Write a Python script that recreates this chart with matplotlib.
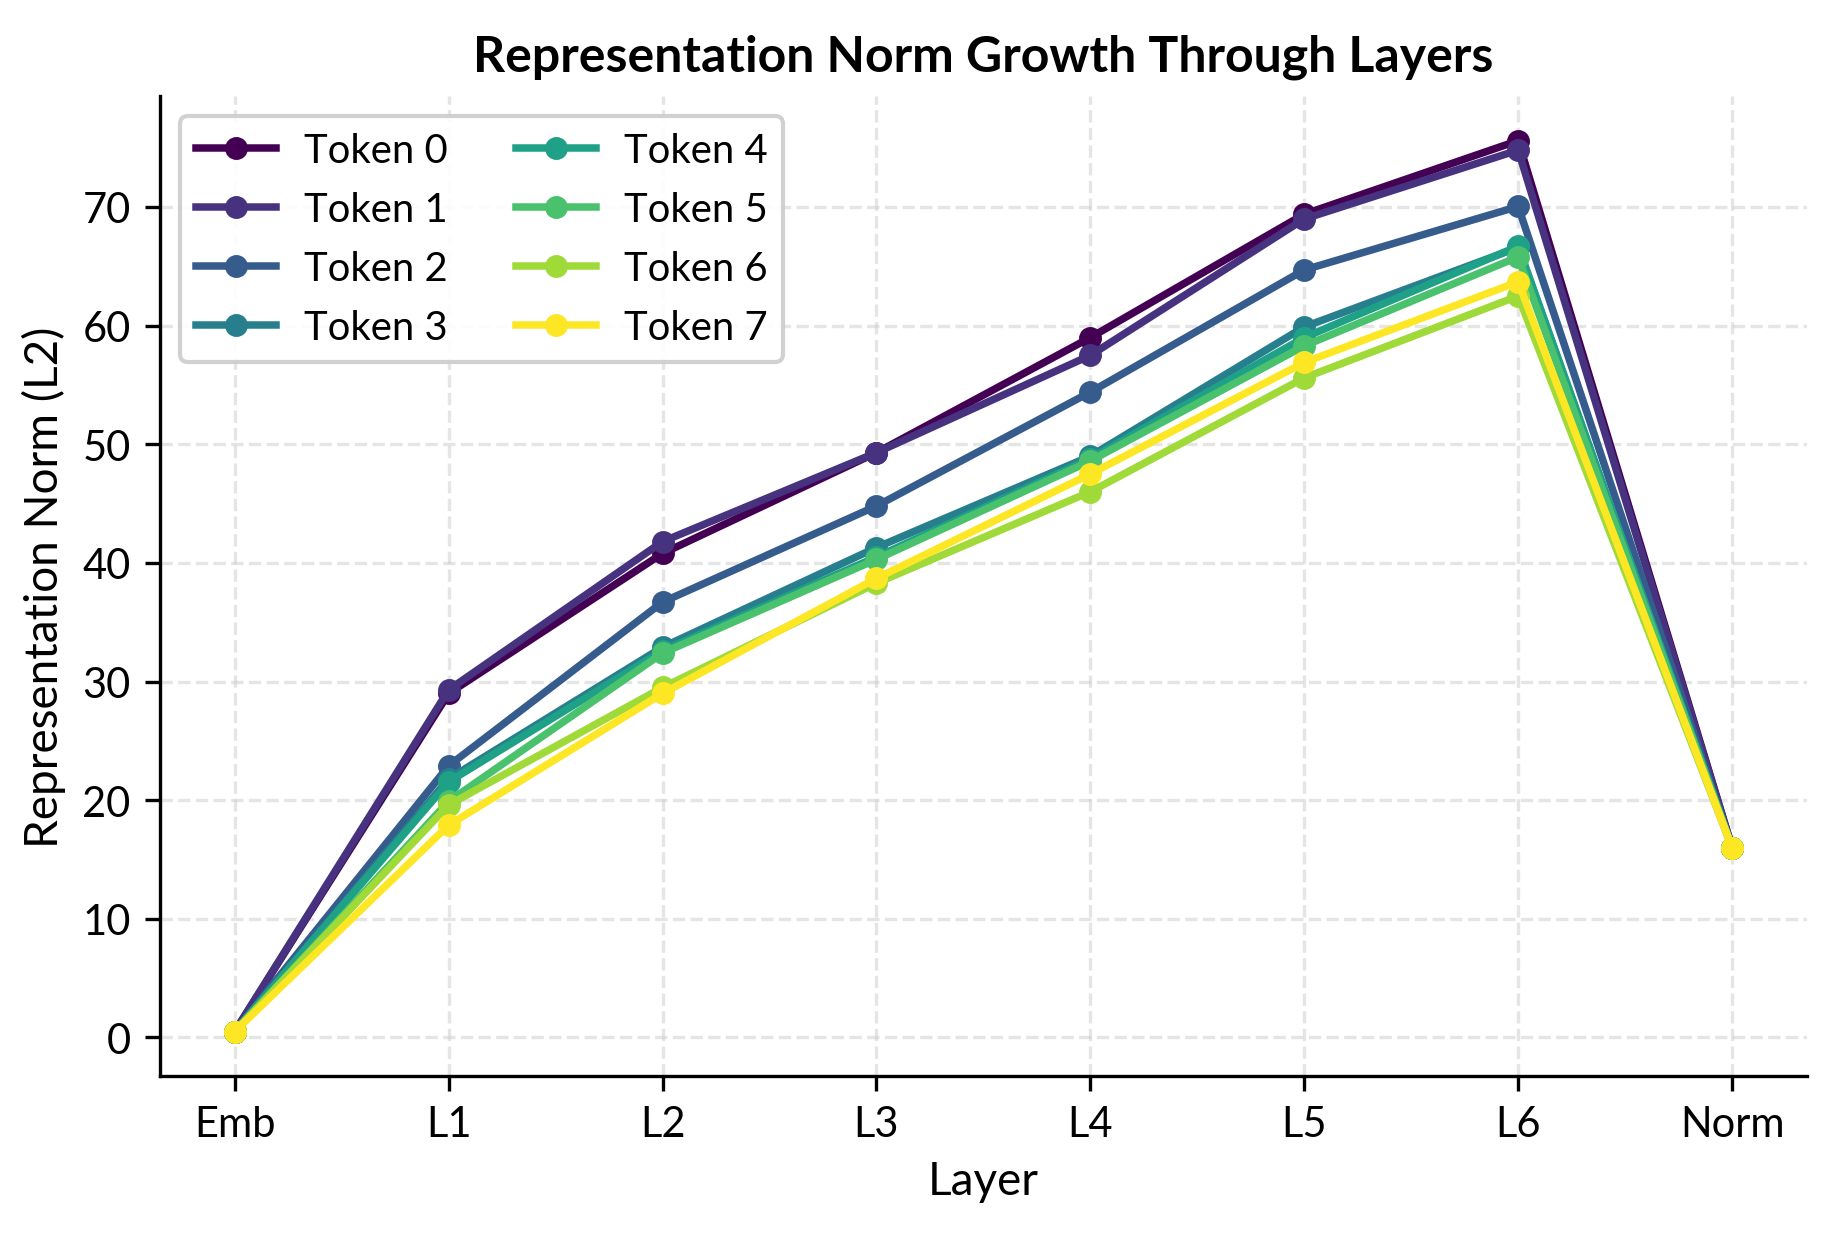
import matplotlib
matplotlib.use("Agg")
import matplotlib.pyplot as plt
import numpy as np

layers = ["Emb", "L1", "L2", "L3", "L4", "L5", "L6", "Norm"]
token_labels = ["Token 0", "Token 1", "Token 2", "Token 3", "Token 4", "Token 5", "Token 6", "Token 7"]

token0 = [0.5, 29.0, 40.8, 49.3, 59.0, 69.4, 75.6, 16.0]
token1 = [0.5, 29.3, 41.8, 49.3, 57.5, 69.0, 74.8, 16.0]
token2 = [0.5, 22.9, 36.7, 44.8, 54.4, 64.7, 70.05, 16.0]
token3 = [0.5, 21.8, 32.9, 41.3, 49.0, 59.9, 66.6, 16.0]
token4 = [0.5, 21.55, 32.6, 40.5, 48.8, 59.0, 66.7, 16.0]
token5 = [0.5, 19.9, 32.4, 40.3, 48.6, 58.3, 65.8, 16.0]
token6 = [0.5, 19.6, 29.5, 38.3, 46.0, 55.6, 62.5, 16.0]
token7 = [0.5, 17.9, 29.0, 38.7, 47.5, 56.9, 63.7, 16.0]
series = [token0, token1, token2, token3, token4, token5, token6, token7]

plt.rcParams['font.family'] = ['Lato', 'DejaVu Sans']

fig = plt.figure(figsize=(6.113, 4.113), dpi=300)
ax = fig.add_axes([0.0872, 0.1272, 0.8981, 0.7942])

colors = plt.cm.viridis(np.linspace(0, 1, len(series)))
x = np.arange(len(layers))
for vals, lab, c in zip(series, token_labels, colors):
    ax.plot(x, vals, marker='o', color=c, lw=1.8, markersize=4.5, label=lab)

ax.set_xticks(x)
ax.set_xticklabels(layers)
ax.tick_params(labelsize=10)
ax.set_xlabel("Layer", fontsize=11)
ax.set_ylabel("Representation Norm (L2)", fontsize=11)
ax.set_title("Representation Norm Growth Through Layers", fontsize=12, fontweight='bold')
ax.grid(True, linestyle='--', color='#cccccc', alpha=0.5, lw=0.8)
ax.spines['top'].set_visible(False)
ax.spines['right'].set_visible(False)
ax.legend(ncol=2, loc='upper left', fontsize=9.6, framealpha=0.9,
          columnspacing=1.7, handletextpad=0.7, labelspacing=0.55)

fig.savefig("out.png", dpi=300)
